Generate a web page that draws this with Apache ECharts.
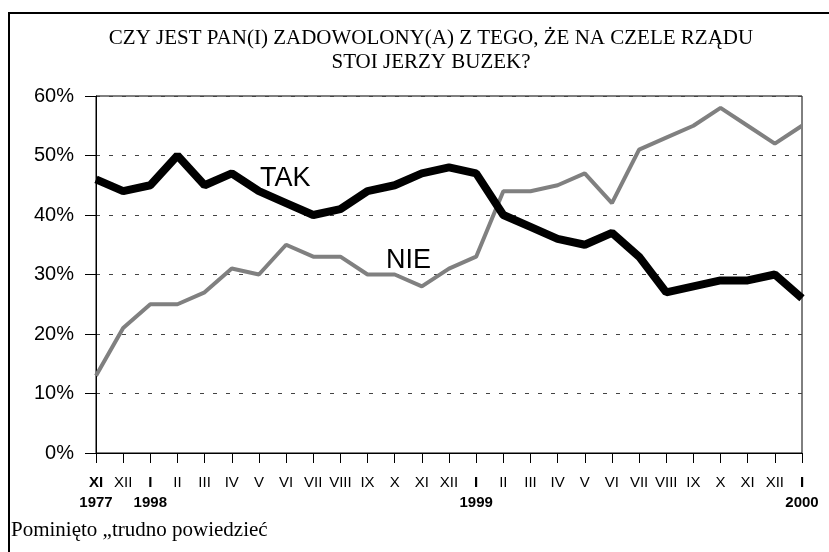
<!DOCTYPE html>
<html>
<head>
<meta charset="utf-8">
<script src="https://cdn.jsdelivr.net/npm/echarts@6/dist/echarts.min.js"></script>
<style>
html,body{margin:0;padding:0;background:#fff;}
#chart{width:829px;height:552px;}
</style>
</head>
<body>
<div id="chart"></div>
<script>
const months = ['XI','XII','I','II','III','IV','V','VI','VII','VIII','IX','X','XI','XII','I','II','III','IV','V','VI','VII','VIII','IX','X','XI','XII','I'];
const years = ['1977','','1998','','','','','','','','','','','','1999','','','','','','','','','','','','2000'];
const tak = [46,44,45,50,45,47,44,42,40,41,44,45,47,48,47,40,38,36,35,37,33,27,28,29,29,30,26];
const nie = [13,21,25,25,27,31,30,35,33,33,30,30,28,31,33,44,44,45,47,42,51,53,55,58,55,52,55];
const yTicks = [0,10,20,30,40,50,60];

const chart = echarts.init(document.getElementById('chart'));
const cats = months.map((m,i)=>i);
chart.setOption({
  animation:false,
  backgroundColor:'#fff',
  title:{
    text:'CZY JEST PAN(I) ZADOWOLONY(A) Z TEGO, ŻE NA CZELE RZĄDU\nSTOI JERZY BUZEK?',
    left:426, top:21, textAlign:'center',
    textStyle:{fontFamily:'Liberation Serif',fontSize:21,fontWeight:'normal',color:'#000',lineHeight:24}
  },
  grid:{left:96,right:27,top:96,bottom:99,show:true,borderColor:'#000',borderWidth:1},
  xAxis:{
    type:'category', data:cats, boundaryGap:false,
    axisLine:{lineStyle:{color:'#000',width:1}},
    axisTick:{interval:0,length:10,lineStyle:{color:'#000'}},
    axisLabel:{
      interval:0, margin:20,
      formatter:function(v,i){
        const bold = years[i] !== '';
        let s = bold ? '{b|'+months[i]+'}' : '{m|'+months[i]+'}';
        if(years[i]) s += '\n{b|'+years[i]+'}';
        return s;
      },
      rich:{
        m:{fontFamily:'Liberation Sans',fontSize:15,color:'#000',lineHeight:20},
        b:{fontFamily:'Liberation Sans',fontSize:15,fontWeight:'bold',color:'#000',lineHeight:20}
      }
    }
  },
  yAxis:{
    type:'value', min:yTicks[0], max:yTicks[yTicks.length-1], interval:10,
    axisLine:{show:true,lineStyle:{color:'#000'}},
    axisTick:{show:true,length:11,lineStyle:{color:'#000'}},
    axisLabel:{formatter:'{value}%',fontFamily:'Liberation Sans',fontSize:20,color:'#000',margin:22,padding:[7,0,0,0]},
    splitLine:{show:true,lineStyle:{color:'#444',type:[4,9],width:1}}
  },
  series:[
    {name:'NIE',type:'line',data:nie,symbol:'none',lineStyle:{color:'#808080',width:4},z:2},
    {name:'TAK',type:'line',data:tak,symbol:'none',lineStyle:{color:'#000',width:8},z:3}
  ],
  graphic:[
    {type:'rect',shape:{x:9,y:13,width:840,height:560},style:{fill:'none',stroke:'#000',lineWidth:2},silent:true},
    {type:'text',left:260,top:165,style:{text:'TAK',font:'27px "Liberation Sans"',fill:'#000'}},
    {type:'text',left:386,top:247,style:{text:'NIE',font:'27px "Liberation Sans"',fill:'#000'}},
    {type:'text',left:11,top:520,style:{text:'Pominięto „trudno powiedzieć',font:'21px "Liberation Serif"',fill:'#000'}}
  ]
});
</script>
</body>
</html>
